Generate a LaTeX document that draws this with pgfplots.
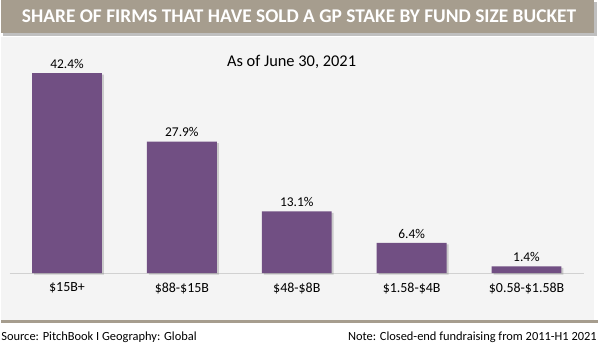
\documentclass[border=0pt]{standalone}
\usepackage{pgfplots}
\pgfplotsset{compat=1.18}
\usepackage{fontspec}
\setmainfont{Carlito}
\usetikzlibrary{shadows}
\definecolor{taupe}{RGB}{166,157,142}
\definecolor{barc}{RGB}{113,79,131}
\definecolor{panel}{RGB}{244,244,244}
\begin{document}
\begin{tikzpicture}[x=1bp,y=1bp]
\path[fill=white] (0,0) rectangle (600,345);
\fill[panel] (0,23) rectangle (594,308);
\draw[taupe, line width=2.2bp] (0,23) -- (598,23);
\fill[black, opacity=0.25] (2,309) rectangle (597,343);
\fill[taupe] (0,312) rectangle (594,345);
\node[white, font=\fontsize{19.5}{22}\selectfont\bfseries] at (298.5,328.5) {SHARE OF FIRMS THAT HAVE SOLD A GP STAKE BY FUND SIZE BUCKET};
\node[black, font=\fontsize{16.5}{19}\selectfont] at (291,282.5) {As of June 30, 2021};
\node[black, anchor=base west, font=\fontsize{12.5}{15}\selectfont, inner sep=0] at (0,4) {Source: PitchBook I Geography: Global};
\node[black, anchor=base east, font=\fontsize{12.5}{15}\selectfont, inner sep=0] at (597,4) {Note: Closed-end fundraising from 2011-H1 2021};
\begin{axis}[
  at={(8.45bp,71.5bp)}, anchor=south west,
  scale only axis, width=575.5bp, height=236bp,
  xmin=-0.5, xmax=4.5, ymin=0, ymax=50,
  axis y line=none, axis x line=bottom,
  x axis line style={draw=black!18, line width=1bp, -},
  xtick=data, major tick length=0,
  xticklabels={\$15B+, \$88-\$15B, \$48-\$8B, \$1.58-\$4B, \$0.58-\$1.58B},
  xticklabel style={font=\fontsize{14}{16}\selectfont, yshift=-6bp},
  ybar, bar width=70bp,
  nodes near coords={\pgfmathprintnumber[fixed, precision=1, fixed zerofill]{\pgfplotspointmeta}\%},
  nodes near coords style={font=\fontsize{13.5}{16}\selectfont, black, yshift=1bp},
  /pgf/number format/assume math mode=true,
  clip=false,
]
\addplot[fill=barc, draw=none, drop shadow={shadow xshift=2bp, shadow yshift=-1.5bp, opacity=0.35}] coordinates {(0,42.4) (1,27.9) (2,13.1) (3,6.4) (4,1.4)};
\end{axis}
\end{tikzpicture}
\end{document}
